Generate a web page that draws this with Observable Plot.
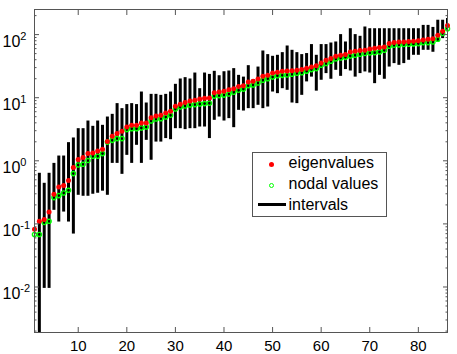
<!DOCTYPE html>
<html><head><meta charset="utf-8">
<script src="https://cdn.jsdelivr.net/npm/d3@7"></script>
<script src="https://cdn.jsdelivr.net/npm/@observablehq/plot@0.6"></script>
<style>
body{margin:0;background:#fff;font-family:"Liberation Sans",Arial,sans-serif;}
#wrap{position:relative;width:457px;height:354px;overflow:hidden;}
#legend{position:absolute;left:251.5px;top:151.5px;width:135px;height:65px;border:1px solid #555;background:#fff;box-sizing:border-box;font-size:16px;color:#000;}
#legend .t{position:absolute;left:36px;line-height:20px;white-space:nowrap;}
#legend .dot{position:absolute;width:5px;height:5px;border-radius:50%;background:#ff0000;}
#legend .ring{position:absolute;width:5px;height:5px;border-radius:50%;border:1.4px solid #00ff00;box-sizing:border-box;}
#legend .ln{position:absolute;height:3px;background:#000;}
</style>
</head><body>
<div id="wrap">
  <div id="chart"></div>
  <div id="legend">
    <span class="dot" style="left:16.5px;top:9px"></span><span class="t" style="top:0px">eigenvalues</span>
    <span class="ring" style="left:16.5px;top:30px"></span><span class="t" style="top:21.5px">nodal values</span>
    <span class="ln" style="left:5.5px;width:28px;top:50px"></span><span class="t" style="top:42px">intervals</span>
  </div>
</div>
<script>
const index = [1,2,3,4,5,6,7,8,9,10,11,12,13,14,15,16,17,18,19,20,21,22,23,24,25,26,27,28,29,30,
31,32,33,34,35,36,37,38,39,40,41,42,43,44,45,46,47,48,49,50,51,52,53,54,55,56,57,58,59,60,
61,62,63,64,65,66,67,68,69,70,71,72,73,74,75,76,77,78,79,80,81,82,83,84,85,86];

const eigenvalues = [0.082,0.110,0.117,0.154,0.295,0.384,0.405,0.486,0.78,1.05,
1.13,1.30,1.33,1.43,1.52,2.03,2.45,2.70,2.93,3.43,
3.65,3.65,3.97,3.97,4.83,5.13,5.26,5.72,6.08,7.31,
7.86,8.36,8.87,9.10,9.55,9.80,9.91,12.0,12.3,12.6,
13.4,13.9,15.1,15.4,17.8,18.2,19.8,21.8,22.6,24.6,
25.3,26.2,26.5,26.8,27.2,27.9,29.3,30.6,32.2,35.5,
39.2,41.7,45.3,47.0,48.3,53.0,54.3,55.8,56.4,59.2,
61.0,62.2,63.6,72.0,74.7,76.4,76.4,77.5,78.5,79.6,
82.5,84.3,86.0,97.5,113,140];

const nodalValues = [0.068,0.068,0.105,0.110,0.261,0.281,0.309,0.341,0.627,0.858,
0.880,1.01,1.18,1.18,1.30,1.98,2.11,2.25,2.25,3.12,
3.23,3.23,3.31,3.43,4.27,4.60,4.66,4.94,5.26,6.62,
7.12,7.39,7.66,7.77,7.95,8.06,8.17,10.6,10.8,11.0,
11.4,12.2,13.1,13.7,15.5,15.9,17.1,18.9,20.0,21.2,
22.3,22.6,22.9,23.5,24.4,24.8,26.3,27.9,28.9,32.6,
34.8,37.8,41.1,42.6,43.6,45.8,47.0,48.8,50.1,51.3,
51.8,53.0,56.4,65.3,67.7,68.6,69.6,70.3,71.2,72.0,
74.7,74.7,76.4,84.3,104,124];

const intervalLow = [null,0.001,0.0095,0.0095,0.164,0.107,0.154,0.107,0.069,0.284,
0.274,0.274,0.295,0.306,0.33,0.284,0.91,0.91,0.61,1.22,
0.91,1.76,0.91,2.11,1.02,1.98,1.98,2.25,2.16,3.23,
3.23,3.12,3.23,3.23,3.43,3.43,2.25,4.38,4.94,4.27,
4.66,3.35,6.31,6.15,6.71,6.71,7.58,6.71,7.12,12.3,
11.6,13.9,13.1,8.24,8.06,10.9,17.8,21.2,12.7,18.9,
24.1,19.6,27.2,21.8,27.9,26.5,21.2,24.1,25.6,24.6,
16.7,22.6,19.6,30.6,34.7,32.6,34.7,39.2,47.0,47.0,
56.4,56.4,52.5,76.4,86.4,117];

const intervalHigh = [null,0.634,0.44,0.634,0.91,1.19,1.19,1.94,2.30,3.23,
3.23,4.27,3.52,4.27,3.65,4.94,5.45,8.06,6.71,7.78,
8.06,7.78,12.3,8.24,11.3,11.3,10.9,11.3,12.3,16.3,
19.8,20.8,19.8,24.6,13.9,24.6,23.4,26.2,22.3,25.8,
26.5,28.9,22.6,21.2,32.2,19.4,30.6,55.0,48.2,45.3,
47.0,51.8,66.0,56.4,51.8,48.2,50.1,69.5,47.0,69.5,
69.5,73.6,76.4,100,76.4,124,100,94.0,132,124,
124,124,124,124,124,124,124,124,124,124,
140,140,130,169,169,180];

const xTicks = [10,20,30,40,50,60,70,80];
const yTicks = [0.01,0.1,1,10,100];
const yTickLabels = ["10^-2","10^-1","10^0","10^1","10^2"];
const yMinorTicks = [];
for (const p of [-3,-2,-1,0,1,2]) for (const k of [2,3,4,5,6,7,8,9]) {
  const v = k * Math.pow(10, p);
  if (v >= 0.0019 && v <= 250) yMinorTicks.push(v);
}

const data = index.map((x, i) => ({x, eig: eigenvalues[i], nod: nodalValues[i], lo: intervalLow[i], hi: intervalHigh[i]}));
const bars = data.filter(d => d.lo != null);

const tickColor = "#555";
const chart = Plot.plot({
  width: 457, height: 354,
  marginLeft: 34, marginRight: 10, marginTop: 9, marginBottom: 22,
  style: {fontFamily: "Liberation Sans, Arial, sans-serif", fontSize: "16px", background: "white", color: "black"},
  x: {domain: [1, 86], label: null},
  y: {type: "log", domain: [0.0019, 250], label: null},
  marks: [
    Plot.ruleX(bars, {x: "x", y1: "lo", y2: "hi", stroke: "black", strokeWidth: 3, clip: true}),
    Plot.dot(data, {x: "x", y: "nod", r: 2.1, stroke: "#00ff00", strokeWidth: 1.4, fill: "none"}),
    Plot.dot(data, {x: "x", y: "eig", r: 2.5, fill: "#ff0000", stroke: "none"}),
    Plot.frame({stroke: tickColor}),
    Plot.axisY(yTicks, {anchor: "left", tickSize: -5, tickPadding: 37, textAnchor: "start", stroke: tickColor, fill: "black", fontSize: 16,
      tickFormat: d => yTickLabels[yTicks.indexOf(d)]}),
    Plot.axisY(yMinorTicks, {anchor: "left", tickSize: -2.5, stroke: tickColor, tickFormat: () => ""}),
    Plot.axisY(yTicks, {anchor: "right", tickSize: -5, stroke: tickColor, tickFormat: () => ""}),
    Plot.axisY(yMinorTicks, {anchor: "right", tickSize: -2.5, stroke: tickColor, tickFormat: () => ""}),
    Plot.axisX(xTicks, {anchor: "bottom", tickSize: -5, tickPadding: 12.5, stroke: tickColor, fill: "black", fontSize: 15}),
    Plot.axisX(xTicks, {anchor: "top", tickSize: -5, stroke: tickColor, tickFormat: () => ""})
  ]
});
document.getElementById("chart").appendChild(chart);

// superscript exponents in y tick labels
chart.querySelectorAll("text").forEach(t => {
  const s = t.textContent;
  if (!s.includes("^")) return;
  const [base, exp] = s.split("^");
  t.textContent = base;
  t.setAttribute("dy", "0.46em");
  const ts = document.createElementNS("http://www.w3.org/2000/svg", "tspan");
  ts.setAttribute("dy", "-7");
  ts.setAttribute("font-size", "11");
  ts.textContent = exp;
  t.appendChild(ts);
});
</script>
</body></html>
